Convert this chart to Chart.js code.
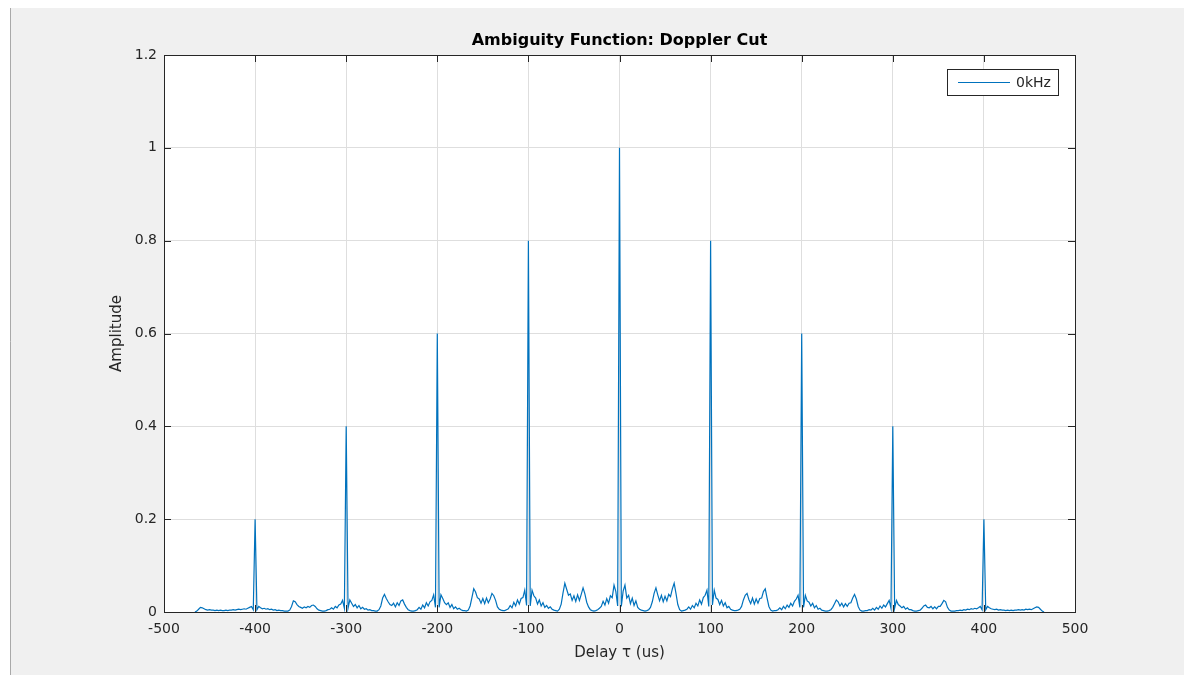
<!DOCTYPE html>
<html>
<head>
<meta charset="utf-8">
<title>Ambiguity Function: Doppler Cut</title>
<script src="https://cdn.jsdelivr.net/npm/chart.js@4.4.0/dist/chart.umd.min.js"></script>
<style>
  html, body { margin: 0; padding: 0; background: #fff; overflow: hidden; }
</style>
</head>
<body>
<canvas id="ambChart" width="1184" height="675"></canvas>
<script>
// delay grid of the cut, in us
const delayStart = -466;
const delayStep = 2;

// amplitude, one value per delayStep
const amplitude = [
  // -466 .. -402
  0, 0.002, 0.006, 0.010, 0.009, 0.007, 0.005, 0.004, 0.005, 0.004,
  0.004, 0.003, 0.004, 0.003, 0.004, 0.003, 0.003, 0.004, 0.003, 0.004,
  0.004, 0.005, 0.004, 0.005, 0.006, 0.005, 0.006, 0.007, 0.006, 0.008,
  0.010, 0.012, 0.005,
  0.20, // -400
  0.005, 0.012, 0.009, 0.007, 0.008, 0.006, 0.007, 0.005, 0.006, 0.004,
  0.005, 0.003, 0.004, 0.003, 0.003, 0.002, 0.002, 0.002, 0.004, 0.012,
  0.024, 0.022, 0.016, 0.012, 0.010, 0.008, 0.011, 0.009, 0.012, 0.010,
  0.014, 0.015, 0.012, 0.007, 0.004, 0.003, 0.002, 0.002, 0.003, 0.005,
  0.006, 0.009, 0.006, 0.012, 0.009, 0.015, 0.017, 0.025, 0.008,
  0.40, // -300
  0.008, 0.026, 0.019, 0.012, 0.016, 0.009, 0.014, 0.007, 0.010, 0.006,
  0.007, 0.004, 0.005, 0.003, 0.003, 0.002, 0.002, 0.005, 0.013, 0.030,
  0.038, 0.029, 0.022, 0.016, 0.014, 0.019, 0.011, 0.020, 0.014, 0.024,
  0.026, 0.017, 0.010, 0.005, 0.003, 0.002, 0.002, 0.003, 0.005, 0.010,
  0.006, 0.015, 0.009, 0.020, 0.013, 0.022, 0.025, 0.037, 0.010,
  0.60, // -200
  0.010, 0.037, 0.029, 0.020, 0.016, 0.020, 0.010, 0.016, 0.007, 0.011,
  0.006, 0.008, 0.005, 0.003, 0.003, 0.002, 0.004, 0.013, 0.031, 0.050,
  0.043, 0.031, 0.028, 0.019, 0.029, 0.018, 0.030, 0.020, 0.028, 0.040,
  0.035, 0.025, 0.011, 0.006, 0.004, 0.003, 0.003, 0.005, 0.007, 0.014,
  0.009, 0.021, 0.013, 0.026, 0.017, 0.029, 0.031, 0.047, 0.014,
  0.80, // -100
  0.013, 0.047, 0.035, 0.030, 0.017, 0.026, 0.013, 0.020, 0.010, 0.014,
  0.008, 0.011, 0.006, 0.004, 0.003, 0.002, 0.006, 0.017, 0.041, 0.062,
  0.049, 0.036, 0.039, 0.025, 0.035, 0.023, 0.037, 0.025, 0.038, 0.052,
  0.039, 0.021, 0.011, 0.005, 0.003, 0.002, 0.003, 0.005, 0.008, 0.012,
  0.023, 0.015, 0.029, 0.019, 0.035, 0.031, 0.058, 0.044, 0.013,
  1.00, // 0
  0.012, 0.045, 0.058, 0.030, 0.036, 0.018, 0.030, 0.014, 0.024, 0.010,
  0.006, 0.004, 0.003, 0.002, 0.003, 0.005, 0.010, 0.022, 0.040, 0.052,
  0.037, 0.024, 0.036, 0.022, 0.034, 0.024, 0.038, 0.033, 0.050, 0.062,
  0.040, 0.016, 0.005, 0.002, 0.003, 0.004, 0.006, 0.011, 0.006, 0.014,
  0.009, 0.019, 0.013, 0.026, 0.017, 0.031, 0.036, 0.047, 0.012,
  0.80, // 100
  0.015, 0.047, 0.030, 0.027, 0.016, 0.025, 0.013, 0.020, 0.009, 0.012,
  0.006, 0.004, 0.003, 0.003, 0.004, 0.006, 0.012, 0.026, 0.036, 0.040,
  0.027, 0.018, 0.030, 0.017, 0.028, 0.019, 0.029, 0.030, 0.044, 0.050,
  0.030, 0.012, 0.004, 0.002, 0.003, 0.003, 0.005, 0.009, 0.005, 0.012,
  0.007, 0.015, 0.010, 0.019, 0.013, 0.023, 0.028, 0.036, 0.010,
  0.60, // 200
  0.010, 0.036, 0.024, 0.021, 0.013, 0.019, 0.009, 0.014, 0.006, 0.008,
  0.004, 0.003, 0.002, 0.002, 0.003, 0.005, 0.010, 0.018, 0.026, 0.022,
  0.013, 0.019, 0.011, 0.018, 0.012, 0.019, 0.020, 0.030, 0.038, 0.028,
  0.012, 0.004, 0.002, 0.002, 0.003, 0.003, 0.005, 0.004, 0.008, 0.004,
  0.010, 0.006, 0.013, 0.008, 0.015, 0.011, 0.018, 0.025, 0.008,
  0.40, // 300
  0.008, 0.025, 0.016, 0.013, 0.009, 0.012, 0.006, 0.009, 0.005, 0.005,
  0.003, 0.002, 0.002, 0.003, 0.004, 0.008, 0.013, 0.015, 0.010, 0.009,
  0.012, 0.007, 0.011, 0.007, 0.012, 0.012, 0.018, 0.025, 0.022, 0.010,
  0.004, 0.002, 0.002, 0.002, 0.003, 0.003, 0.004, 0.003, 0.005, 0.004,
  0.006, 0.005, 0.007, 0.006, 0.008, 0.007, 0.009, 0.012, 0.005,
  0.20, // 400
  0.005, 0.012, 0.009, 0.007, 0.006, 0.005, 0.006, 0.004, 0.005, 0.004,
  0.004, 0.003, 0.004, 0.003, 0.004, 0.003, 0.004, 0.004, 0.005, 0.004,
  0.005, 0.004, 0.006, 0.005, 0.006, 0.005, 0.007, 0.009, 0.011, 0.010,
  0.006, 0.002, 0
];

const seriesLabel = '0kHz';
const xTickValues = [-500, -400, -300, -200, -100, 0, 100, 200, 300, 400, 500];
const yTickValues = [0, 0.2, 0.4, 0.6, 0.8, 1, 1.2];

const lineColor = '#0072bd';
const axisColor = '#262626';
const labelFont = 'DejaVu Sans';

// figure background, axes box with inward ticks, boxed legend
const matlabLook = {
    id: 'matlabLook',
    beforeDraw(chart) {
        const { ctx, chartArea: a, width, height } = chart;
        ctx.save();
        ctx.fillStyle = '#ffffff';
        ctx.fillRect(0, 0, width, height);
        ctx.fillStyle = '#f0f0f0';
        ctx.fillRect(10, 8, width - 10, height - 8);
        ctx.strokeStyle = '#a9a9a9';
        ctx.lineWidth = 1;
        ctx.beginPath();
        ctx.moveTo(10.5, 8);
        ctx.lineTo(10.5, height);
        ctx.stroke();
        ctx.fillStyle = '#ffffff';
        ctx.fillRect(a.left, a.top, a.right - a.left, a.bottom - a.top);
        ctx.restore();
    },
    afterDraw(chart) {
        const { ctx, chartArea: a } = chart;
        const xs = chart.scales.x, ys = chart.scales.y;
        const tick = 7;
        ctx.save();
        ctx.strokeStyle = axisColor;
        ctx.lineWidth = 1;
        ctx.beginPath();
        xTickValues.forEach(v => {
            const px = Math.round(xs.getPixelForValue(v)) + 0.5;
            ctx.moveTo(px, a.bottom); ctx.lineTo(px, a.bottom - tick);
            ctx.moveTo(px, a.top); ctx.lineTo(px, a.top + tick);
        });
        yTickValues.forEach(v => {
            const py = Math.round(ys.getPixelForValue(v)) + 0.5;
            ctx.moveTo(a.left, py); ctx.lineTo(a.left + tick, py);
            ctx.moveTo(a.right, py); ctx.lineTo(a.right - tick, py);
        });
        ctx.stroke();
        ctx.strokeRect(Math.round(a.left) + 0.5, Math.round(a.top) + 0.5,
            Math.round(a.right - a.left), Math.round(a.bottom - a.top));

        // legend
        const bx = Math.round(a.right) - 128, by = Math.round(a.top) + 14;
        const bw = 111, bh = 26;
        ctx.fillStyle = '#ffffff';
        ctx.fillRect(bx, by, bw, bh);
        ctx.strokeStyle = axisColor;
        ctx.strokeRect(bx + 0.5, by + 0.5, bw, bh);
        ctx.strokeStyle = lineColor;
        ctx.beginPath();
        ctx.moveTo(bx + 11, by + 13.5);
        ctx.lineTo(bx + 63, by + 13.5);
        ctx.stroke();
        ctx.fillStyle = axisColor;
        ctx.font = '14px "' + labelFont + '"';
        ctx.textBaseline = 'middle';
        ctx.textAlign = 'left';
        ctx.fillText(chart.data.datasets[0].label, bx + 69, by + 14);
        ctx.restore();
    }
};

document.addEventListener('DOMContentLoaded', () => {
    const ctx = document.getElementById('ambChart').getContext('2d');
    const points = amplitude.map((v, i) => ({ x: delayStart + i * delayStep, y: v }));

    new Chart(ctx, {
        type: 'line',
        data: {
            datasets: [{
                label: seriesLabel,
                data: points,
                borderColor: lineColor,
                borderWidth: 1.2,
                pointRadius: 0,
                tension: 0,
                fill: false
            }]
        },
        options: {
            responsive: false,
            animation: false,
            devicePixelRatio: 1,
            layout: { padding: { left: 0, right: 109, top: 0, bottom: 0 } },
            plugins: {
                legend: { display: false },
                tooltip: { enabled: false },
                title: {
                    display: true,
                    fullSize: false,
                    text: 'Ambiguity Function: Doppler Cut',
                    color: '#000000',
                    font: { family: labelFont, size: 16, weight: 'bold' },
                    padding: { top: 31, bottom: 4.8 }
                }
            },
            scales: {
                x: {
                    type: 'linear',
                    min: -500,
                    max: 500,
                    afterBuildTicks: s => { s.ticks = xTickValues.map(v => ({ value: v })); },
                    afterFit: s => { s.height = 63; },
                    ticks: {
                        color: axisColor,
                        font: { family: labelFont, size: 14 },
                        padding: 9,
                        maxRotation: 0,
                        autoSkip: false,
                        callback: v => String(v)
                    },
                    grid: { color: '#dedede', drawTicks: false },
                    border: { display: false },
                    title: {
                        display: true,
                        text: 'Delay τ (us)',
                        color: axisColor,
                        font: { family: labelFont, size: 15 },
                        padding: { top: 0, bottom: 13 }
                    }
                },
                y: {
                    min: 0,
                    max: 1.2,
                    afterBuildTicks: s => { s.ticks = yTickValues.map(v => ({ value: v })); },
                    afterFit: s => { s.width = 164; },
                    ticks: {
                        color: axisColor,
                        font: { family: labelFont, size: 14 },
                        padding: 7,
                        callback: v => String(v)
                    },
                    grid: { color: '#dedede', drawTicks: false },
                    border: { display: false },
                    title: {
                        display: true,
                        text: 'Amplitude',
                        color: axisColor,
                        font: { family: labelFont, size: 15 },
                        padding: { top: 108, bottom: 0 }
                    }
                }
            }
        },
        plugins: [matlabLook]
    });
});
</script>
</body>
</html>
